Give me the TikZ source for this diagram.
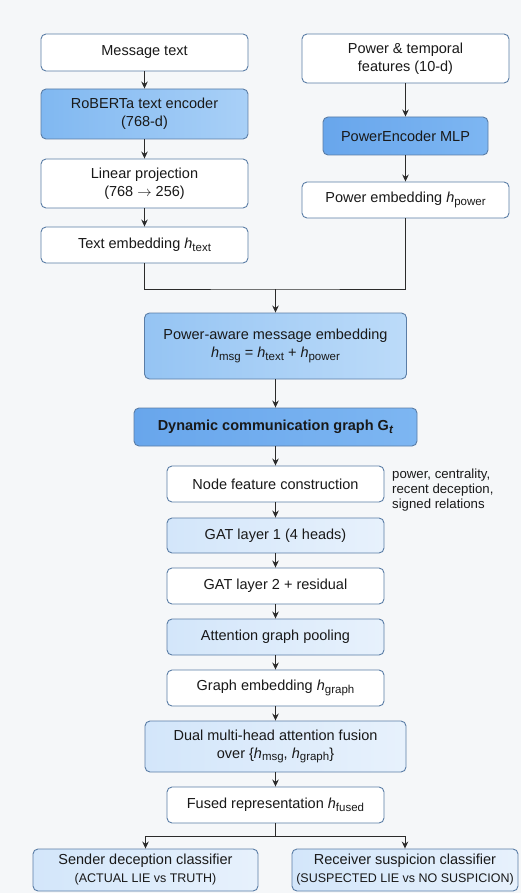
\documentclass[tikz,border=0pt]{standalone}
\usepackage{fontspec}
\setmainfont{Liberation Sans}
\usetikzlibrary{arrows.meta}
\definecolor{bgc}{HTML}{F5F7F9}
\definecolor{bord}{HTML}{5A7DA6}
\definecolor{lnc}{HTML}{2B2B2B}
\definecolor{strongA}{HTML}{68A6EC}
\definecolor{strongB}{HTML}{7DB6F2}
\definecolor{midA}{HTML}{80B8F1}
\definecolor{midB}{HTML}{A9D0F7}
\definecolor{pawA}{HTML}{95C4F3}
\definecolor{pawB}{HTML}{BCDBF9}
\definecolor{lightA}{HTML}{D3E6FA}
\definecolor{lightB}{HTML}{E7F1FC}
\newcommand{\subtx}[1]{\raisebox{-0.35ex}{\fontsize{11.5}{11.5}\selectfont #1}}
\newcommand{\hsub}[1]{\textit{h}\subtx{#1}}
\begin{document}
\begin{tikzpicture}[x=1pt,y=-1pt,
  every node/.style={font=\fontsize{14.5}{18}\selectfont, text=black!90},
  box/.style={draw=bord, line width=0.9pt, rounded corners=5pt, align=center, inner sep=1pt},
  whitebox/.style={box, fill=white},
  strongbox/.style={box, left color=strongA, right color=strongB},
  midbox/.style={box, left color=midA, right color=midB},
  pawbox/.style={box, left color=pawA, right color=pawB},
  lightbox/.style={box, left color=lightA, right color=lightB},
  conn/.style={draw=lnc, line width=1pt},
  arr/.style={conn, -{Stealth[length=7pt,width=6.5pt]}}
]
\fill[bgc] (0,0) rectangle (521,893);
\useasboundingbox (0,0) rectangle (521,893);

% left column
\node[whitebox, minimum width=207pt, minimum height=37pt] (msg) at (144.5,52.5) {Message text};
\node[midbox, minimum width=207pt, minimum height=50pt] (rob) at (144.5,114) {RoBERTa text encoder\\(768-d)};
\node[whitebox, minimum width=207pt, minimum height=49pt] (lin) at (144.5,183.5) {Linear projection\\(768 \(\rightarrow\) 256)};
\node[whitebox, minimum width=207pt, minimum height=36pt] (temb) at (144.5,245) {Text embedding \hsub{text}};

% right column
\node[whitebox, minimum width=207pt, minimum height=49pt] (pw) at (405.5,58.5) {Power \& temporal\\features (10-d)};
\node[strongbox, minimum width=165pt, minimum height=38pt] (penc) at (405.5,136) {PowerEncoder MLP};
\node[whitebox, minimum width=207pt, minimum height=36pt] (pemb) at (405.5,200) {Power embedding \hsub{power}};

\coordinate (j) at (275.5,289);

% main column
\node[pawbox, minimum width=262pt, minimum height=66pt] (paw) at (275.5,346) {Power-aware message embedding\\\hsub{msg} = \hsub{text} + \hsub{power}};
\node[strongbox, minimum width=283pt, minimum height=38pt] (dyn) at (275.5,427) {\textbf{Dynamic communication graph G\subtx{\textit{t}}}};
\node[whitebox, minimum width=217pt, minimum height=36pt] (nfc) at (275.5,484) {Node feature construction};
\node[anchor=west, align=left, inner sep=0pt, font=\fontsize{13.2}{15}\selectfont] (note) at (392,490) {power, centrality,\\recent deception,\\signed relations};
\node[lightbox, minimum width=217pt, minimum height=35pt] (gat1) at (275.5,535.5) {GAT layer 1 (4 heads)};
\node[whitebox, minimum width=217pt, minimum height=36pt] (gat2) at (275.5,586) {GAT layer 2 + residual};
\node[lightbox, minimum width=217pt, minimum height=36pt] (pool) at (275.5,637) {Attention graph pooling};
\node[whitebox, minimum width=217pt, minimum height=36pt] (gemb) at (275.5,688) {Graph embedding \hsub{graph}};
\node[lightbox, minimum width=261pt, minimum height=51pt] (dual) at (275.5,746.5) {Dual multi-head attention fusion\\over \{\hsub{msg}, \hsub{graph}\}};
\node[whitebox, minimum width=217pt, minimum height=36pt] (fused) at (275.5,805) {Fused representation \hsub{fused}};

\coordinate (s) at (275.5,836);

\node[lightbox, minimum width=225pt, minimum height=42pt, inner xsep=1pt] (send) at (145.5,870) {Sender deception classifier\\{\fontsize{12.5}{15}\selectfont (ACTUAL LIE vs TRUTH)}};
\node[lightbox, minimum width=226pt, minimum height=42pt, inner xsep=1pt] (recv) at (405,870) {Receiver suspicion classifier\\{\fontsize{12.5}{15}\selectfont (SUSPECTED LIE vs NO SUSPICION)}};

% connectors
\draw[arr] (msg) -- (rob);
\draw[arr] (rob) -- (lin);
\draw[arr] (lin) -- (temb);
\draw[arr] (pw) -- (penc);
\draw[arr] (penc) -- (pemb);
\draw[conn] (temb.south) |- (j) -| (pemb.south);
\draw[arr] (j) -- (paw.north);
\draw[arr] (paw) -- (dyn);
\draw[arr] (dyn) -- (nfc);
\draw[arr] (nfc) -- (gat1);
\draw[arr] (gat1) -- (gat2);
\draw[arr] (gat2) -- (pool);
\draw[arr] (pool) -- (gemb);
\draw[arr] (gemb) -- (dual);
\draw[arr] (dual) -- (fused);
\draw[conn] (fused.south) -- (s);
\draw[arr] (s) -| (send.north);
\draw[arr] (s) -| (recv.north);
\end{tikzpicture}
\end{document}
